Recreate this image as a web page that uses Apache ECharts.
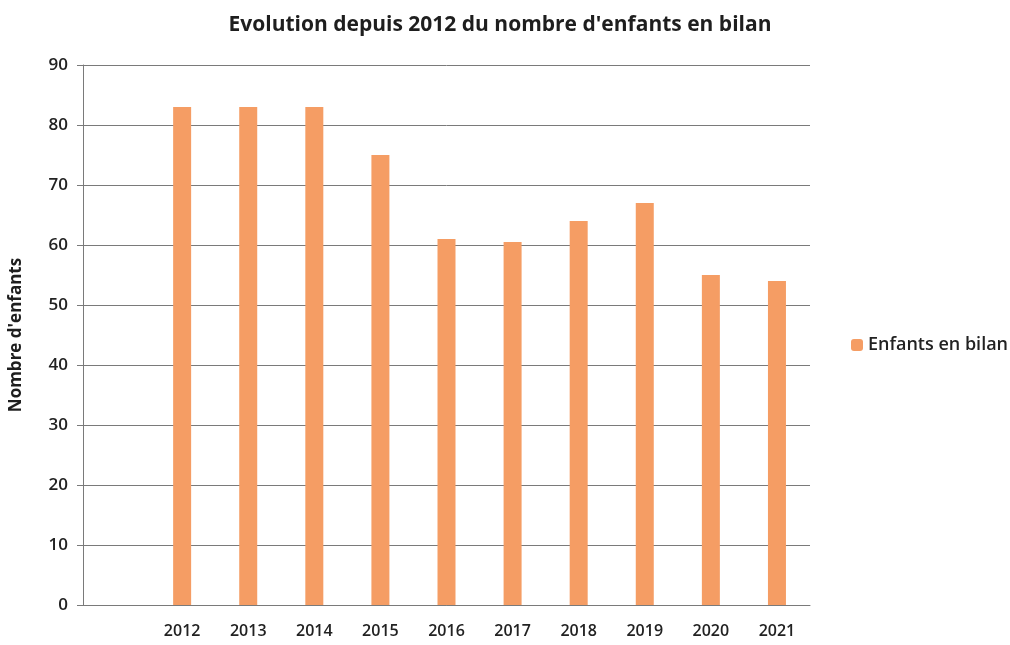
<!DOCTYPE html>
<html><head><meta charset="utf-8">
<script src="https://cdn.jsdelivr.net/npm/echarts@6/dist/echarts.min.js"></script>
<style>html,body{margin:0;padding:0;background:#fff}#c{width:1010px;height:645px}</style>
</head><body><div id="c"></div>
<script>
var years = ['2012','2013','2014','2015','2016','2017','2018','2019','2020','2021'];
var enfants = [83, 83, 83, 75, 61, 60.5, 64, 67, 55, 54];
var yTicks = [0,10,20,30,40,50,60,70,80,90];

var cats = [''].concat(years);
var vals = [null].concat(enfants);
var font = '"Open Sans", "Liberation Sans", sans-serif';
var chart = echarts.init(document.getElementById('c'));
chart.setOption({
  animation: false,
  title: {text: "Evolution depuis 2012 du nombre d'enfants en bilan", left: 495, textAlign: 'center', top: 10,
    textStyle: {fontFamily: font, fontSize: 21, fontWeight: 'bold', color: '#1e1e1e'}},
  legend: {orient: 'vertical', left: 846, top: 331, itemWidth: 12, itemHeight: 12, itemGap: 6,
    textStyle: {fontFamily: font, fontSize: 18, fontWeight: 600, color: '#222'}, data: ['Enfants en bilan']},
  grid: {left: 78, right: 200, top: 65, bottom: 40, containLabel: false},
  xAxis: {type: 'category', data: cats, boundaryGap: true,
    axisLine: {lineStyle: {color: '#7a7a7a', width: 1}}, axisTick: {show: false},
    axisLabel: {fontFamily: font, fontSize: 16, fontWeight: 600, color: '#222', margin: 18, interval: 0}},
  yAxis: {type: 'value', min: yTicks[0], max: yTicks[yTicks.length-1], interval: 10,
    name: "Nombre d'enfants", nameLocation: 'middle', nameGap: 58, nameRotate: 90,
    nameTextStyle: {fontFamily: font, fontSize: 17, fontWeight: 'bold', color: '#1e1e1e'},
    axisLine: {show: true, lineStyle: {color: '#7a7a7a', width: 1}},
    axisTick: {show: true, length: 6, lineStyle: {color: '#7a7a7a'}},
    splitLine: {lineStyle: {color: '#7a7a7a', width: 1}},
    axisLabel: {fontFamily: font, fontSize: 17, fontWeight: 600, color: '#222', margin: 15}},
  series: [{name: 'Enfants en bilan', type: 'bar', data: vals, barWidth: 18,
    itemStyle: {color: '#F59D64'}}]
});
</script></body></html>
